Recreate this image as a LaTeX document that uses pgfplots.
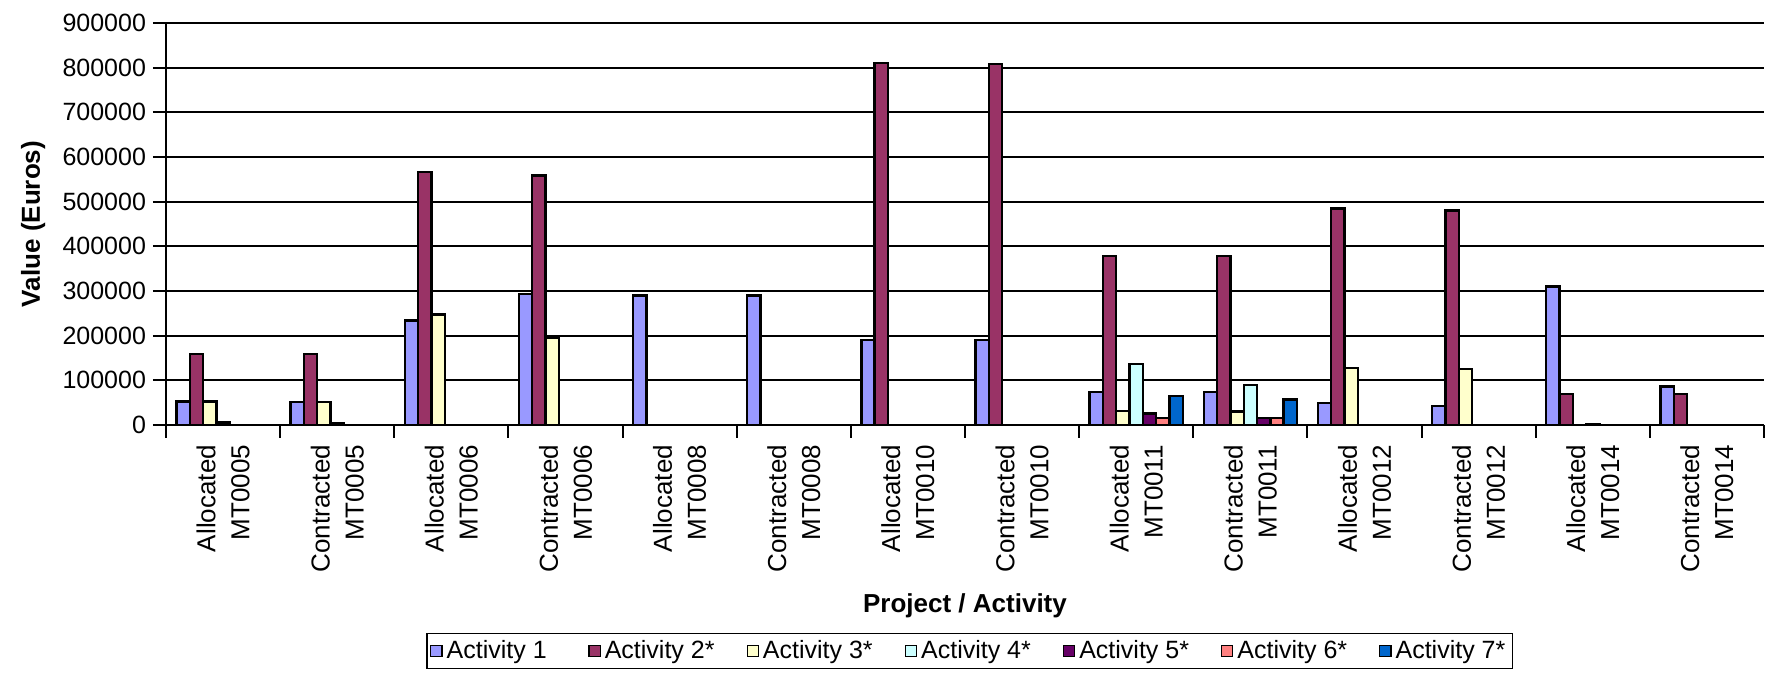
\documentclass[border=0pt]{standalone}
\usepackage{pgfplots}
\pgfplotsset{compat=1.18}
\usepackage{fontspec}
\setmainfont{Liberation Sans}
\definecolor{cA}{HTML}{9999FF}
\definecolor{cB}{HTML}{993366}
\definecolor{cC}{HTML}{FFFFCC}
\definecolor{cD}{HTML}{CCFFFF}
\definecolor{cE}{HTML}{660066}
\definecolor{cF}{HTML}{FF8080}
\definecolor{cG}{HTML}{0066CC}
\begin{document}
\begin{tikzpicture}
\begin{axis}[
  scale only axis,
  width=799pt, height=201pt,
  xmin=0, xmax=14, ymin=0, ymax=900000,
  axis x line*=bottom, axis y line*=left,
  axis line style={line width=1pt, black},
  ybar=0pt, bar width=0.1165,
  xtick={0.5,1.5,...,13.5},
  xticklabels={{Allocated\\MT0005},{Contracted\\MT0005},{Allocated\\MT0006},{Contracted\\MT0006},{Allocated\\MT0008},{Contracted\\MT0008},{Allocated\\MT0010},{Contracted\\MT0010},{Allocated\\MT0011},{Contracted\\MT0011},{Allocated\\MT0012},{Contracted\\MT0012},{Allocated\\MT0014},{Contracted\\MT0014}},
  xtick style={draw=none},
  extra x ticks={0,1,...,14},
  extra x tick labels={},
  extra x tick style={xtick style={draw=black, line width=1pt}, xmajorgrids=false},
  tick align=outside,
  major tick length=6.5pt,
  ytick={0,100000,...,900000},
  ytick style={black, line width=1pt},
  ymajorgrids,
  grid style={black, line width=1pt},
  scaled y ticks=false,
  /pgf/number format/assume math mode=true,
  yticklabel style={/pgf/number format/fixed, /pgf/number format/1000 sep={}, font=\fontsize{12.5}{15}\selectfont},
  xticklabel style={rotate=90, anchor=east, align=right, font=\fontsize{13}{17}\selectfont},
  xlabel={\textbf{Project / Activity}},
  ylabel={\textbf{Value (Euros)}},
  xlabel style={at={(axis description cs:0.5,0)}, anchor=center, yshift=-90.5pt, font=\fontsize{13}{15}\selectfont},
  ylabel style={at={(axis description cs:-0.0832,0.5)}, anchor=center, font=\fontsize{13}{15}\selectfont},
  legend columns=7,
  legend style={at={(axis description cs:0.503,0)}, anchor=center, yshift=-113pt, draw=black, line width=0.8pt, font=\fontsize{12.5}{14}\selectfont, inner sep=1.5pt, /tikz/every odd column/.append style={column sep=0pt}, /tikz/every even column/.append style={column sep=14pt}},
  legend image code/.code={\draw[#1, draw=black, line width=0.6pt] (0pt,-2.8pt) rectangle (5.6pt,2.8pt);},
  every axis plot/.append style={draw=black, line width=1.2pt},
]
\coordinate (O) at (rel axis cs:0,0);
\addplot[fill=cA] coordinates {(0.5,53000) (1.5,52000) (2.5,234000) (3.5,293000) (4.5,290000) (5.5,290000) (6.5,190000) (7.5,190000) (8.5,74000) (9.5,74000) (10.5,49000) (11.5,43000) (12.5,310000) (13.5,86000)};
\addplot[fill=cB] coordinates {(0.5,159000) (1.5,159000) (2.5,566000) (3.5,559000) (6.5,810000) (7.5,808000) (8.5,379000) (9.5,379000) (10.5,485000) (11.5,480000) (12.5,69000) (13.5,69000)};
\addplot[fill=cC] coordinates {(0.5,53000) (1.5,52000) (2.5,247000) (3.5,196000) (8.5,31000) (9.5,30000) (10.5,127000) (11.5,125000)};
\addplot[fill=cD] coordinates {(0.5,6000) (1.5,4500) (8.5,137000) (9.5,89000) (12.5,2000)};
\addplot[fill=cE] coordinates {(8.5,26000) (9.5,15000)};
\addplot[fill=cF] coordinates {(8.5,15000) (9.5,15000)};
\addplot[fill=cG] coordinates {(8.5,65000) (9.5,57000)};
\legend{Activity 1\phantom{*},Activity 2*,Activity 3*,Activity 4*,Activity 5*,Activity 6*,Activity 7*}
\end{axis}
\pgfresetboundingbox
\useasboundingbox (O) ++(-83pt,-131.5pt) rectangle ++(882.5pt,344pt);
\end{tikzpicture}
\end{document}
